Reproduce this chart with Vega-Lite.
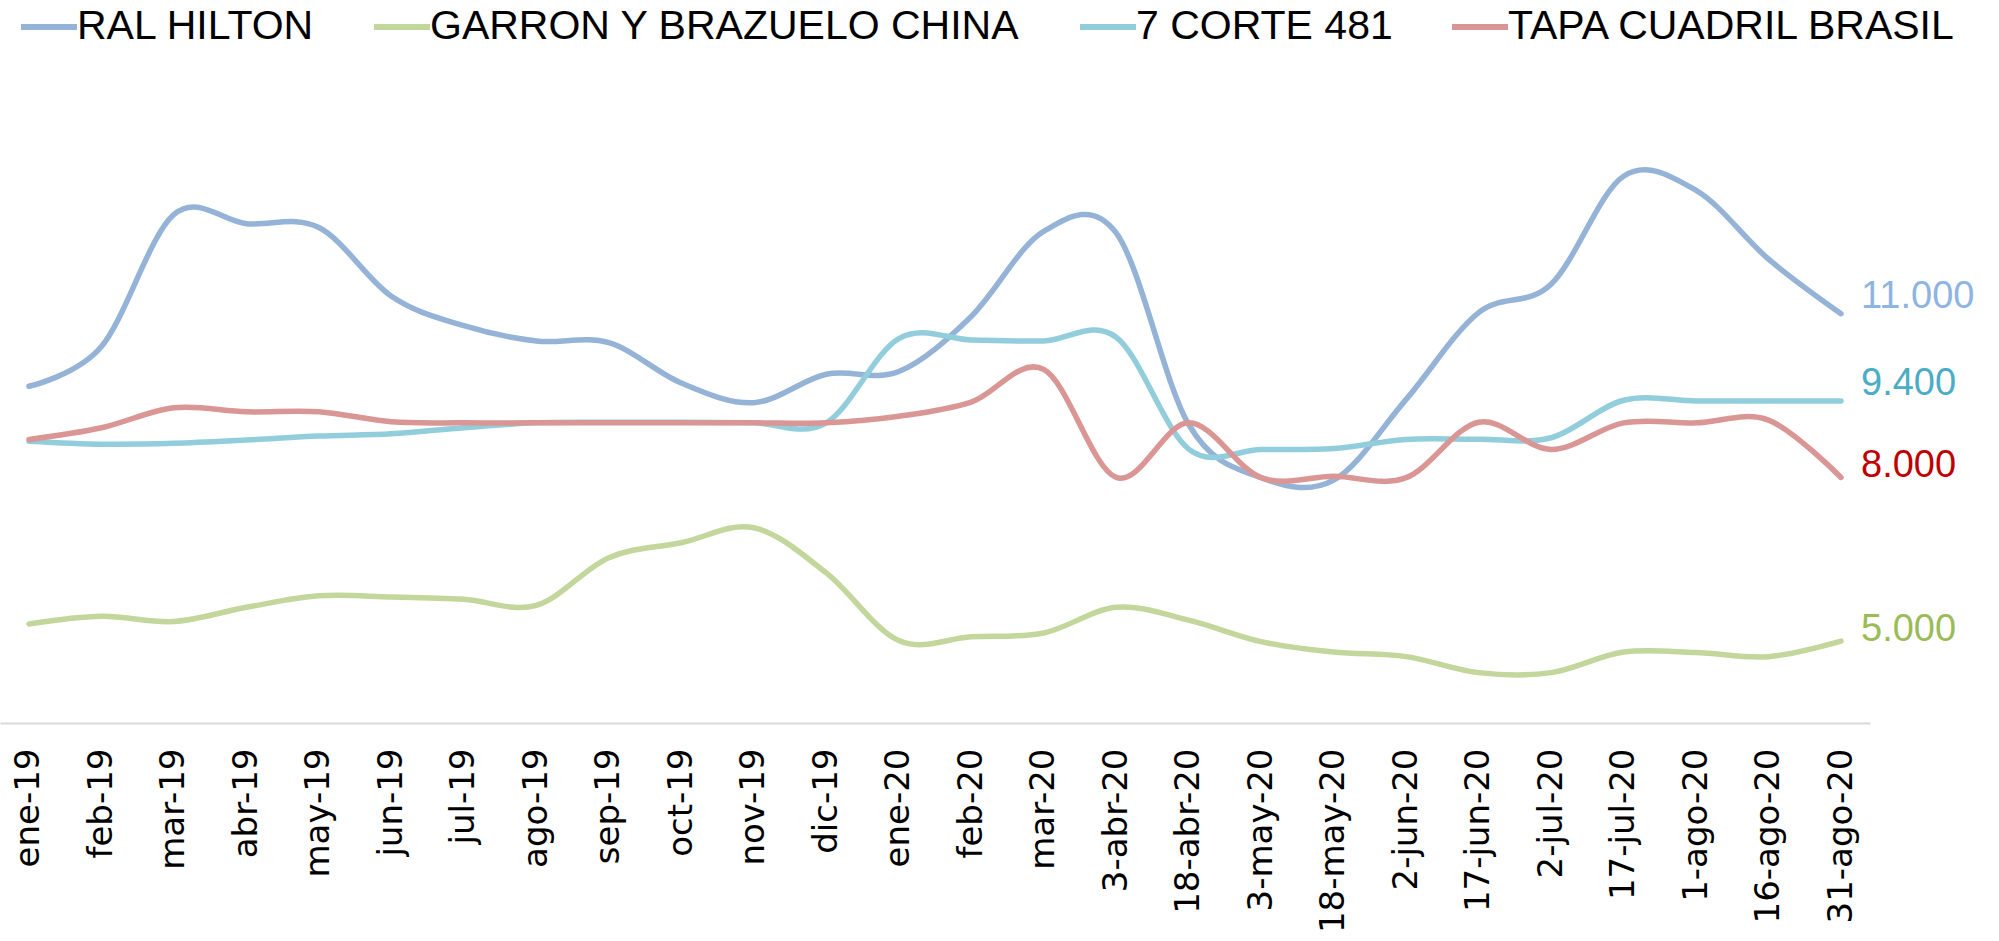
{
  "$schema": "https://vega.github.io/schema/vega-lite/v6.json",
  "autosize": "none",
  "width": 1870,
  "height": 573,
  "padding": {"left": 0, "top": 150, "right": 129, "bottom": 218},
  "background": "white",
  "config": {
    "view": {"stroke": null},
    "locale": {"number": {"decimal": ",", "thousands": ".", "grouping": [3], "currency": ["$", ""]}}
  },
  "data": {"values": [
    {"i":0,"fecha":"ene-19","serie":"RAL HILTON","valor":9670},
    {"i":1,"fecha":"feb-19","serie":"RAL HILTON","valor":10400},
    {"i":2,"fecha":"mar-19","serie":"RAL HILTON","valor":12820},
    {"i":3,"fecha":"abr-19","serie":"RAL HILTON","valor":12650},
    {"i":4,"fecha":"may-19","serie":"RAL HILTON","valor":12580},
    {"i":5,"fecha":"jun-19","serie":"RAL HILTON","valor":11320},
    {"i":6,"fecha":"jul-19","serie":"RAL HILTON","valor":10780},
    {"i":7,"fecha":"ago-19","serie":"RAL HILTON","valor":10500},
    {"i":8,"fecha":"sep-19","serie":"RAL HILTON","valor":10470},
    {"i":9,"fecha":"oct-19","serie":"RAL HILTON","valor":9730},
    {"i":10,"fecha":"nov-19","serie":"RAL HILTON","valor":9370},
    {"i":11,"fecha":"dic-19","serie":"RAL HILTON","valor":9890},
    {"i":12,"fecha":"ene-20","serie":"RAL HILTON","valor":9940},
    {"i":13,"fecha":"feb-20","serie":"RAL HILTON","valor":10950},
    {"i":14,"fecha":"mar-20","serie":"RAL HILTON","valor":12510},
    {"i":15,"fecha":"3-abr-20","serie":"RAL HILTON","valor":12480},
    {"i":16,"fecha":"18-abr-20","serie":"RAL HILTON","valor":8970},
    {"i":17,"fecha":"3-may-20","serie":"RAL HILTON","valor":7995},
    {"i":18,"fecha":"18-may-20","serie":"RAL HILTON","valor":7950},
    {"i":19,"fecha":"2-jun-20","serie":"RAL HILTON","valor":9430},
    {"i":20,"fecha":"17-jun-20","serie":"RAL HILTON","valor":11020},
    {"i":21,"fecha":"2-jul-20","serie":"RAL HILTON","valor":11540},
    {"i":22,"fecha":"17-jul-20","serie":"RAL HILTON","valor":13520},
    {"i":23,"fecha":"1-ago-20","serie":"RAL HILTON","valor":13260},
    {"i":24,"fecha":"16-ago-20","serie":"RAL HILTON","valor":12000},
    {"i":25,"fecha":"31-ago-20","serie":"RAL HILTON","valor":11000},

    {"i":0,"fecha":"ene-19","serie":"GARRON Y BRAZUELO CHINA","valor":5315},
    {"i":1,"fecha":"feb-19","serie":"GARRON Y BRAZUELO CHINA","valor":5455},
    {"i":2,"fecha":"mar-19","serie":"GARRON Y BRAZUELO CHINA","valor":5360},
    {"i":3,"fecha":"abr-19","serie":"GARRON Y BRAZUELO CHINA","valor":5620},
    {"i":4,"fecha":"may-19","serie":"GARRON Y BRAZUELO CHINA","valor":5830},
    {"i":5,"fecha":"jun-19","serie":"GARRON Y BRAZUELO CHINA","valor":5810},
    {"i":6,"fecha":"jul-19","serie":"GARRON Y BRAZUELO CHINA","valor":5766},
    {"i":7,"fecha":"ago-19","serie":"GARRON Y BRAZUELO CHINA","valor":5656},
    {"i":8,"fecha":"sep-19","serie":"GARRON Y BRAZUELO CHINA","valor":6529},
    {"i":9,"fecha":"oct-19","serie":"GARRON Y BRAZUELO CHINA","valor":6803},
    {"i":10,"fecha":"nov-19","serie":"GARRON Y BRAZUELO CHINA","valor":7078},
    {"i":11,"fecha":"dic-19","serie":"GARRON Y BRAZUELO CHINA","valor":6250},
    {"i":12,"fecha":"ene-20","serie":"GARRON Y BRAZUELO CHINA","valor":5010},
    {"i":13,"fecha":"feb-20","serie":"GARRON Y BRAZUELO CHINA","valor":5080},
    {"i":14,"fecha":"mar-20","serie":"GARRON Y BRAZUELO CHINA","valor":5150},
    {"i":15,"fecha":"3-abr-20","serie":"GARRON Y BRAZUELO CHINA","valor":5620},
    {"i":16,"fecha":"18-abr-20","serie":"GARRON Y BRAZUELO CHINA","valor":5385},
    {"i":17,"fecha":"3-may-20","serie":"GARRON Y BRAZUELO CHINA","valor":4990},
    {"i":18,"fecha":"18-may-20","serie":"GARRON Y BRAZUELO CHINA","valor":4800},
    {"i":19,"fecha":"2-jun-20","serie":"GARRON Y BRAZUELO CHINA","valor":4716},
    {"i":20,"fecha":"17-jun-20","serie":"GARRON Y BRAZUELO CHINA","valor":4423},
    {"i":21,"fecha":"2-jul-20","serie":"GARRON Y BRAZUELO CHINA","valor":4423},
    {"i":22,"fecha":"17-jul-20","serie":"GARRON Y BRAZUELO CHINA","valor":4800},
    {"i":23,"fecha":"1-ago-20","serie":"GARRON Y BRAZUELO CHINA","valor":4790},
    {"i":24,"fecha":"16-ago-20","serie":"GARRON Y BRAZUELO CHINA","valor":4716},
    {"i":25,"fecha":"31-ago-20","serie":"GARRON Y BRAZUELO CHINA","valor":5000},

    {"i":0,"fecha":"ene-19","serie":"7 CORTE 481","valor":8665},
    {"i":1,"fecha":"feb-19","serie":"7 CORTE 481","valor":8610},
    {"i":2,"fecha":"mar-19","serie":"7 CORTE 481","valor":8625},
    {"i":3,"fecha":"abr-19","serie":"7 CORTE 481","valor":8685},
    {"i":4,"fecha":"may-19","serie":"7 CORTE 481","valor":8757},
    {"i":5,"fecha":"jun-19","serie":"7 CORTE 481","valor":8800},
    {"i":6,"fecha":"jul-19","serie":"7 CORTE 481","valor":8910},
    {"i":7,"fecha":"ago-19","serie":"7 CORTE 481","valor":9000},
    {"i":8,"fecha":"sep-19","serie":"7 CORTE 481","valor":9010},
    {"i":9,"fecha":"oct-19","serie":"7 CORTE 481","valor":9010},
    {"i":10,"fecha":"nov-19","serie":"7 CORTE 481","valor":9000},
    {"i":11,"fecha":"dic-19","serie":"7 CORTE 481","valor":9000},
    {"i":12,"fecha":"ene-20","serie":"7 CORTE 481","valor":10545},
    {"i":13,"fecha":"feb-20","serie":"7 CORTE 481","valor":10520},
    {"i":14,"fecha":"mar-20","serie":"7 CORTE 481","valor":10500},
    {"i":15,"fecha":"3-abr-20","serie":"7 CORTE 481","valor":10570},
    {"i":16,"fecha":"18-abr-20","serie":"7 CORTE 481","valor":8520},
    {"i":17,"fecha":"3-may-20","serie":"7 CORTE 481","valor":8513},
    {"i":18,"fecha":"18-may-20","serie":"7 CORTE 481","valor":8530},
    {"i":19,"fecha":"2-jun-20","serie":"7 CORTE 481","valor":8696},
    {"i":20,"fecha":"17-jun-20","serie":"7 CORTE 481","valor":8700},
    {"i":21,"fecha":"2-jul-20","serie":"7 CORTE 481","valor":8727},
    {"i":22,"fecha":"17-jul-20","serie":"7 CORTE 481","valor":9415},
    {"i":23,"fecha":"1-ago-20","serie":"7 CORTE 481","valor":9400},
    {"i":24,"fecha":"16-ago-20","serie":"7 CORTE 481","valor":9400},
    {"i":25,"fecha":"31-ago-20","serie":"7 CORTE 481","valor":9400},

    {"i":0,"fecha":"ene-19","serie":"TAPA CUADRIL BRASIL","valor":8696},
    {"i":1,"fecha":"feb-19","serie":"TAPA CUADRIL BRASIL","valor":8910},
    {"i":2,"fecha":"mar-19","serie":"TAPA CUADRIL BRASIL","valor":9276},
    {"i":3,"fecha":"abr-19","serie":"TAPA CUADRIL BRASIL","valor":9203},
    {"i":4,"fecha":"may-19","serie":"TAPA CUADRIL BRASIL","valor":9203},
    {"i":5,"fecha":"jun-19","serie":"TAPA CUADRIL BRASIL","valor":9020},
    {"i":6,"fecha":"jul-19","serie":"TAPA CUADRIL BRASIL","valor":9000},
    {"i":7,"fecha":"ago-19","serie":"TAPA CUADRIL BRASIL","valor":9000},
    {"i":8,"fecha":"sep-19","serie":"TAPA CUADRIL BRASIL","valor":9000},
    {"i":9,"fecha":"oct-19","serie":"TAPA CUADRIL BRASIL","valor":9000},
    {"i":10,"fecha":"nov-19","serie":"TAPA CUADRIL BRASIL","valor":9000},
    {"i":11,"fecha":"dic-19","serie":"TAPA CUADRIL BRASIL","valor":9000},
    {"i":12,"fecha":"ene-20","serie":"TAPA CUADRIL BRASIL","valor":9120},
    {"i":13,"fecha":"feb-20","serie":"TAPA CUADRIL BRASIL","valor":9380},
    {"i":14,"fecha":"mar-20","serie":"TAPA CUADRIL BRASIL","valor":9980},
    {"i":15,"fecha":"3-abr-20","serie":"TAPA CUADRIL BRASIL","valor":8000},
    {"i":16,"fecha":"18-abr-20","serie":"TAPA CUADRIL BRASIL","valor":9000},
    {"i":17,"fecha":"3-may-20","serie":"TAPA CUADRIL BRASIL","valor":7995},
    {"i":18,"fecha":"18-may-20","serie":"TAPA CUADRIL BRASIL","valor":8020},
    {"i":19,"fecha":"2-jun-20","serie":"TAPA CUADRIL BRASIL","valor":7995},
    {"i":20,"fecha":"17-jun-20","serie":"TAPA CUADRIL BRASIL","valor":9012},
    {"i":21,"fecha":"2-jul-20","serie":"TAPA CUADRIL BRASIL","valor":8513},
    {"i":22,"fecha":"17-jul-20","serie":"TAPA CUADRIL BRASIL","valor":9000},
    {"i":23,"fecha":"1-ago-20","serie":"TAPA CUADRIL BRASIL","valor":9000},
    {"i":24,"fecha":"16-ago-20","serie":"TAPA CUADRIL BRASIL","valor":9050},
    {"i":25,"fecha":"31-ago-20","serie":"TAPA CUADRIL BRASIL","valor":8000}
  ]},
  "encoding": {
    "x": {
      "field": "fecha", "type": "ordinal",
      "sort": ["ene-19","feb-19","mar-19","abr-19","may-19","jun-19","jul-19","ago-19","sep-19","oct-19","nov-19","dic-19","ene-20","feb-20","mar-20","3-abr-20","18-abr-20","3-may-20","18-may-20","2-jun-20","17-jun-20","2-jul-20","17-jul-20","1-ago-20","16-ago-20","31-ago-20"],
      "scale": {"type": "point", "padding": 0.4},
      "axis": {
        "title": null, "labelAngle": -90, "labelFont": "DejaVu Sans", "labelFontSize": 34,
        "labelColor": "#000000", "labelPadding": 25, "ticks": false, "grid": false,
        "domainColor": "#D9D9D9", "domainWidth": 2, "labelOverlap": false, "labelLimit": 500
      }
    },
    "y": {
      "field": "valor", "type": "quantitative",
      "scale": {"domain": [3500, 14000], "zero": false, "nice": false},
      "axis": null
    }
  },
  "layer": [
    {
      "mark": {"type": "line", "interpolate": "cardinal", "strokeWidth": 5.5, "strokeCap": "round", "strokeJoin": "round"},
      "encoding": {
        "order": {"field": "i", "type": "quantitative"},
        "color": {
          "field": "serie", "type": "nominal",
          "scale": {"domain": ["RAL HILTON", "GARRON Y BRAZUELO CHINA", "7 CORTE 481", "TAPA CUADRIL BRASIL"], "range": ["#95B3D7", "#C3D69B", "#92CDDC", "#D99694"]},
          "legend": {
            "title": null, "orient": "none", "direction": "horizontal", "legendX": 18, "legendY": -154,
            "symbolType": "stroke", "symbolSize": 3136, "symbolStrokeWidth": 6,
            "labelFont": "Liberation Sans", "labelFontSize": 41, "labelColor": "#000000",
            "labelOffset": -3, "columnPadding": 47, "labelLimit": 2000, "padding": 0
          }
        }
      }
    },
    {
      "transform": [{"filter": "datum.i == 25 && (datum.serie == 'RAL HILTON' || datum.serie == '7 CORTE 481')"}],
      "mark": {"type": "text", "align": "left", "baseline": "middle", "dx": 20, "dy": -17, "font": "Liberation Sans", "fontSize": 38},
      "encoding": {
        "text": {"field": "valor", "type": "quantitative", "format": ",.0f"},
        "color": {
          "field": "serie", "type": "nominal",
          "scale": {"domain": ["RAL HILTON", "GARRON Y BRAZUELO CHINA", "7 CORTE 481", "TAPA CUADRIL BRASIL"], "range": ["#8DB4E2", "#9BBB59", "#4BACC6", "#C00000"]},
          "legend": null
        }
      }
    },
    {
      "transform": [{"filter": "datum.i == 25 && (datum.serie == 'TAPA CUADRIL BRASIL' || datum.serie == 'GARRON Y BRAZUELO CHINA')"}],
      "mark": {"type": "text", "align": "left", "baseline": "middle", "dx": 20, "dy": -11, "font": "Liberation Sans", "fontSize": 38},
      "encoding": {
        "text": {"field": "valor", "type": "quantitative", "format": ",.0f"},
        "color": {
          "field": "serie", "type": "nominal",
          "scale": {"domain": ["RAL HILTON", "GARRON Y BRAZUELO CHINA", "7 CORTE 481", "TAPA CUADRIL BRASIL"], "range": ["#8DB4E2", "#9BBB59", "#4BACC6", "#C00000"]},
          "legend": null
        }
      }
    }
  ],
  "resolve": {"scale": {"color": "independent"}}
}
